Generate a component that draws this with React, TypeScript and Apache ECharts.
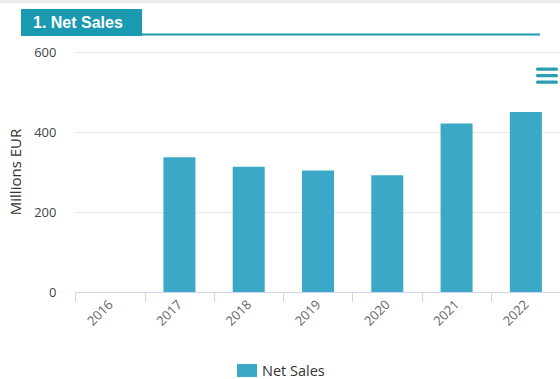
import React, { useEffect, useRef } from "react";
import * as echarts from "echarts";

const categories = ["2016", "2017", "2018", "2019", "2020", "2021", "2022"];
const netSales: (number | null)[] = [null, 337, 313, 304, 292, 421, 450];
const seriesName = "Net Sales";
const yAxisTitle = "Millions EUR";
const chartTitle = "1. Net Sales";

export default function App() {
  const ref = useRef<HTMLDivElement>(null);
  useEffect(() => {
    if (!ref.current) return;
    const chart = echarts.init(ref.current, undefined, { renderer: "svg" });
    const font = "'Open Sans', 'Noto Sans', sans-serif";
    chart.setOption({
      animation: false,
      backgroundColor: "#ffffff",
      textStyle: { fontFamily: font },
      grid: {
        left: 75.5,
        top: 52,
        width: 485,
        height: 240,
        containLabel: false,
        outerBoundsMode: "none",
      },
      legend: {
        data: [seriesName],
        left: 232,
        top: 358,
        itemWidth: 20,
        itemHeight: 13,
        itemGap: 7,
        icon: "rect",
        textStyle: { fontSize: 14.5, color: "#333333", fontFamily: font },
      },
      xAxis: {
        type: "category",
        data: categories,
        axisLine: { lineStyle: { color: "#ccd6eb", width: 1 } },
        axisTick: { show: true, length: 10, lineStyle: { color: "#ccd6eb" } },
        axisLabel: {
          rotate: 45,
          margin: 10,
          fontSize: 13,
          color: "#666666",
          fontFamily: font,
        },
      },
      yAxis: {
        type: "value",
        min: 0,
        max: 600,
        interval: 200,
        name: yAxisTitle,
        nameLocation: "middle",
        nameGap: 53,
        nameTextStyle: { fontSize: 15, color: "#333333", fontFamily: font },
        axisLine: { show: false },
        axisTick: { show: false },
        axisLabel: { fontSize: 13, color: "#444444", margin: 19, fontFamily: font },
        splitLine: { lineStyle: { color: "#e6e6e6", width: 1 } },
      },
      series: [
        {
          name: seriesName,
          type: "bar",
          data: netSales,
          barWidth: 32,
          itemStyle: { color: "#3ba8c8" },
        },
      ],
      graphic: [
        { type: "rect", left: 0, top: 0, shape: { width: 560, height: 3 }, style: { fill: "#ececec" } },
        { type: "rect", x: 21, y: 9, shape: { width: 121, height: 27 }, style: { fill: "#1a9ab0" } },
        {
          type: "text",
          x: 33,
          y: 22.5,
          style: {
            text: chartTitle,
            fill: "#ffffff",
            font: "bold 16px 'Liberation Sans', Arial, sans-serif",
            textVerticalAlign: "middle",
            verticalAlign: "middle",
          },
        },
        { type: "rect", x: 142, y: 33.5, shape: { width: 398, height: 2 }, style: { fill: "#1a9ab0" } },
        { type: "rect", x: 536, y: 67.5, shape: { width: 22, height: 3.3, r: 1.5 }, style: { fill: "#2a9db5" } },
        { type: "rect", x: 536, y: 74, shape: { width: 22, height: 3.3, r: 1.5 }, style: { fill: "#2a9db5" } },
        { type: "rect", x: 536, y: 80.5, shape: { width: 22, height: 3.3, r: 1.5 }, style: { fill: "#2a9db5" } },
      ],
    });
    return () => chart.dispose();
  }, []);
  return (
    <div
      ref={ref}
      style={{ position: "fixed", left: 0, top: 0, width: 560, height: 379 }}
    />
  );
}
